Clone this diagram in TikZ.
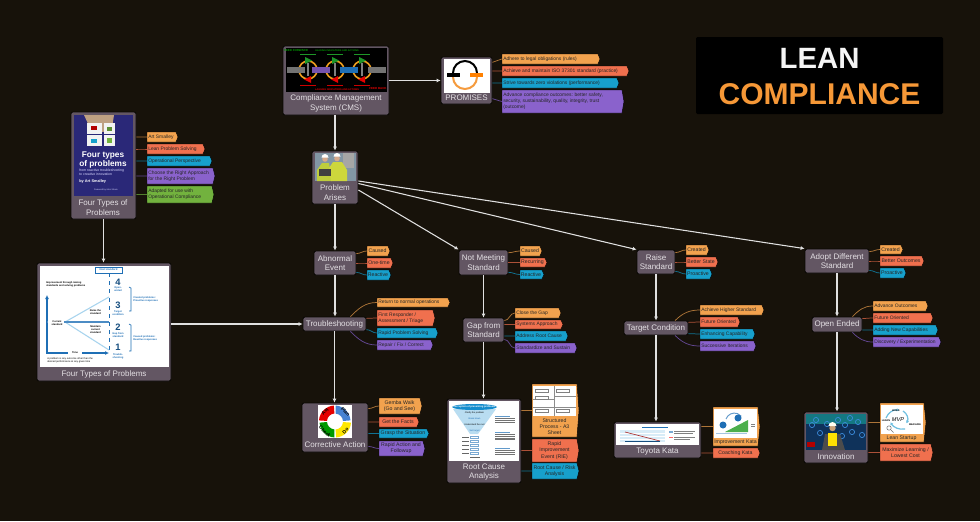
\documentclass[tikz,border=0pt]{standalone}
\usepackage{fontspec}
\setmainfont{Liberation Sans}
\usetikzlibrary{arrows.meta,calc,shapes.symbols,decorations.pathreplacing}
\definecolor{bgc}{HTML}{17120A}
\definecolor{boxc}{HTML}{635663}
\definecolor{labc}{HTML}{E4E0E4}
\definecolor{tagO}{HTML}{F2A24E}
\definecolor{tagR}{HTML}{F0704E}
\definecolor{tagB}{HTML}{17A0CC}
\definecolor{tagP}{HTML}{8A62CC}
\definecolor{tagG}{HTML}{72B23E}
\definecolor{chb}{HTML}{1F6FB5}
\definecolor{chl}{HTML}{A8D4EE}
\newcounter{tn}
\newcommand\fs[1]{\fontsize{#1pt}{\dimexpr#1pt*12/10\relax}\selectfont}
\def\leftword{left}
\tikzset{
  parentbox/.style={draw=black!60!bgc,line width=0.6pt,fill=boxc,rounded corners=1.5pt,inner sep=1pt,align=center,text=labc,font=\fs{6}},
  taglab/.style={text=black!85,font=\fs{3.9},inner sep=0pt},
  taglabel/.style={text=black!85,font=\fs{3.9},inner sep=0pt,align=center},
  ltaglabel/.style={text=black!85,font=\fs{3.7},inner sep=0pt,align=left,anchor=west},
  plab/.style={text=labc,font=\fs{6},inner sep=0pt,align=center},
  flow/.style={draw=white!88!black,line width=0.8pt,-{Latex[length=3pt,width=3pt]}},
  tagline/.style={line width=0.55pt},
  tiny1/.style={inner sep=0pt,align=center,font=\fs{1.9}},
}
% name x0 y0 x1 y1 text
\newcommand\boxnode[6]{%
 \pgfmathsetmacro\cxx{(#2+#4)/2}\pgfmathsetmacro\cyy{(#3+#5)/2}%
 \pgfmathsetmacro\pww{(#4-#2)*0.75}\pgfmathsetmacro\phh{(#5-#3)*0.75}%
 \node[parentbox,minimum width=\pww pt,minimum height=\phh pt] (#1) at (\cxx,\cyy) {#6};}
% [align] name x0 y0 x1 y1 colour text
\newcommand\tagonly[8][center]{%
 \pgfmathsetmacro\cxx{(#3+#5)/2}\pgfmathsetmacro\cyy{(#4+#6)/2}%
 \pgfmathsetmacro\pww{(#5-#3)*0.75}\pgfmathsetmacro\phh{(#6-#4)*0.75}%
 \pgfmathsetmacro\pang{2*atan((#6-#4)/4)}%
 \def\tagal{#1}%
 \ifx\tagal\leftword
   \node[signal,signal to=east,signal pointer angle=\pang,draw=black,line width=0.35pt,fill=#7,
     minimum width=\pww pt,minimum height=\phh pt,inner sep=0.6pt] (#2) at (\cxx,\cyy) {};
   \node[ltaglabel] (#2L) at (#3+2,\cyy) {#8};
 \else
   \node[signal,signal to=east,signal pointer angle=\pang,draw=black,line width=0.35pt,fill=#7,
     minimum width=\pww pt,minimum height=\phh pt,taglab,inner sep=0.6pt,align=center] (#2) at (\cxx,\cyy) {#8};
 \fi}
% tag parent colour
\newcommand\tagconn[3]{%
 \draw[tagline,#3!72!black] let \p1=(#2.north east),\p2=(#2.south east),\p3=(#1.west),
   \n1={max(0.12,min(0.88,(\y3-\y1)/(\y2-\y1)))} in
   ({\x1},{\y1+\n1*(\y2-\y1)}) to[out=0,in=180] (#1.west);}
% [align] name x0 y0 x1 y1 colour text parent
\newcommand\tagnode[9][center]{\tagonly[#1]{#2}{#3}{#4}{#5}{#6}{#7}{#8}\tagconn{#2}{#9}{#7}}
\newcommand\txt[4][]{\stepcounter{tn}\node[tiny1,#1] (t\thetn) at (#2,#3) {#4};}
\begin{document}
\begin{tikzpicture}[x=0.75pt,y=-0.75pt]
\fill[bgc] (0,0) rectangle (980,521);
\path[use as bounding box] (0,0) rectangle (980,521);

% ---------- title
\node[fill=black,rounded corners=1pt,minimum width=185.25pt,minimum height=57.75pt] (title) at (819.5,75.5) {};
\node[text=white!96!black,font=\fs{22}\bfseries,inner sep=0pt] (lean) at (819.5,58) {LEAN};
\node[text=tagO!70!orange,font=\fs{22.5}\bfseries,inner sep=0pt] (compl) at (819.5,94.5) {COMPLIANCE};

% ---------- book
\boxnode{book}{71}{112}{136}{219}{}
\fill[color={rgb,255:red,42;green,40;blue,120}] (74,115) rectangle (133,196);
\fill[color={rgb,255:red,190;green,160;blue,130}] (84,115) -- (114,115) -- (112,128) -- (103,132) -- (90,128) -- cycle;
\fill[white!90!gray] (87,123) rectangle (102,134);
\fill[white!90!gray] (104,123) rectangle (115,134);
\fill[white!90!gray] (87,135) rectangle (102,146);
\fill[white!90!gray] (104,135) rectangle (115,146);
\fill[red!70!black] (91,126) rectangle (97,130);
\fill[tagG!80!black] (107,127) rectangle (112,131);
\fill[tagB] (91,139) rectangle (97,143);
\fill[tagG] (107,138) rectangle (112,143);
\txt[text=white,font=\fs{6.2}\bfseries]{103}{155.5}{Four types}
\txt[text=white,font=\fs{6.2}\bfseries]{103}{164}{of problems}
\txt[text=white!85!blue,font=\fs{2.6},align=left,anchor=west]{79}{172.5}{from reactive troubleshooting\\[-0.2pt]to creative innovation}
\txt[text=white,font=\fs{2.9}\bfseries,anchor=west]{79}{181.5}{by Art Smalley}
\txt[text=white!85!blue,font=\fs{1.6},anchor=east]{118}{190}{Foreword by John Shook}
\node[plab] (bookL) at (103,207.5) {Four Types of\\Problems};
\tagnode[left]{b1}{146}{132}{177}{142}{tagO}{Art Smalley}{book}
\tagnode[left]{b2}{146}{144}{204}{154}{tagR}{Lean Problem Solving}{book}
\tagnode[left]{b3}{146}{156}{211}{166}{tagB}{Operational Perspective}{book}
\tagnode[left]{b4}{146}{168}{214}{184}{tagP}{Choose the Right Approach\\for the Right Problem}{book}
\tagnode[left]{b5}{146}{186}{213}{203}{tagG}{Adapted for use with\\Operational Compliance}{book}

% ---------- chart
\boxnode{chart}{37}{263}{171}{381}{}
\fill[white] (40,266) rectangle (169,367);
\node[draw=chb,line width=0.5pt,fill=white,minimum width=20pt,minimum height=4.5pt,inner sep=0pt,text=chb,font=\fs{2}\bfseries] (nxt) at (108.5,270) {Next standard};
\draw[chb,line width=0.4pt,dashed] (109,273) -- (109,296);
\draw[chb,line width=0.4pt,dashed] (109,298) -- (109,352);
\draw[chb,line width=0.8pt,{Latex[length=3pt,width=3pt]}-{Latex[length=3pt,width=3pt]}] (47,295) -- (47,353) -- (109,353);
\fill[white] (68,351) rectangle (82,355);
\draw[chl,line width=0.8pt] (65,322) -- (109,297);
\draw[chl,line width=0.8pt] (65,322) -- (109,350);
\draw[chb!80!white,line width=0.8pt] (47,322) -- (109,322);
\fill[white] (48,319) rectangle (64,331);
\txt[text=black,font=\fs{1.9}\bfseries]{57}{323}{Current\\standard}
\txt[text=black,font=\fs{1.9}\bfseries]{75}{353}{Time}
\txt[text=black,font=\fs{1.9}\bfseries,align=left,anchor=west]{46}{284}{Improvement through raising\\standards and solving problems}
\txt[text=black,font=\fs{1.9}\bfseries]{95.5}{312}{Raise the\\standard}
\txt[text=black,font=\fs{1.9}\bfseries]{95.5}{330}{Maintain\\current\\standard}
\txt[text=black,font=\fs{1.9},align=left,anchor=west]{47}{360.5}{A problem is any outcome other than the\\desired performance at any given time}
\txt[text=chb!70!black,font=\fs{7}\bfseries]{118}{282}{4}
\txt[text=chb!70!black,font=\fs{7}\bfseries]{118}{305}{3}
\txt[text=chb!70!black,font=\fs{7}\bfseries]{118}{327}{2}
\txt[text=chb!70!black,font=\fs{7}\bfseries]{118}{347}{1}
\txt[text=chb,font=\fs{1.9}\bfseries]{118}{289.5}{Open-\\ended}
\txt[text=chb,font=\fs{1.9}\bfseries]{118}{313}{Target\\condition}
\txt[text=chb,font=\fs{1.9}\bfseries]{118}{335}{Gap from\\standard}
\txt[text=chb,font=\fs{1.9}\bfseries]{118}{356}{Trouble-\\shooting}
\draw[chb,line width=0.5pt] (129,287) -- (131,288) -- (131,311) -- (129,311);
\draw[chb,line width=0.5pt] (129,324) -- (131,325) -- (131,351) -- (129,351);
\txt[text=chb,font=\fs{1.9}\bfseries,align=left,anchor=west]{133}{299}{Created problems:\\Proactive responses}
\txt[text=chb,font=\fs{1.9}\bfseries,align=left,anchor=west]{133}{338.5}{Caused problems:\\Reactive responses}
\node[plab] (chartL) at (104,374.5) {Four Types of Problems};

% ---------- CMS
\boxnode{cms}{283}{46}{389}{115}{}
\fill[black] (286,48) rectangle (387,92);
\foreach \cc in {308,335,362}{
  \draw[color={rgb,255:red,240;green,160;blue,30},line width=1.2pt] (\cc,70) circle (9);
  \fill[color={rgb,255:red,30;green,150;blue,40}] (\cc-3,57) -- (\cc+4,60.5) -- (\cc-3,64) -- cycle;
  \fill[red!90!black] (\cc+3,76) -- (\cc-4,79.5) -- (\cc+3,83) -- cycle;
  \fill[black!50!white] (\cc-1,63) rectangle (\cc+1,76);
  \fill[color={rgb,255:red,30;green,150;blue,40}] (\cc-8,54) rectangle (\cc+8,55);
  \fill[red!80!black] (\cc-8,84.5) rectangle (\cc+8,85.5);
}
\fill[black!55!white] (287,67) rectangle (305,73);
\fill[tagP!85!black] (312,67) rectangle (330,73);
\fill[chb] (340,67) rectangle (358,73);
\fill[black!55!white] (368,67) rectangle (386,73);
\txt[text=green!60!black,font=\fs{2.2}\bfseries]{296}{50.5}{FEED FORWARD}
\txt[text=green!60!black,font=\fs{1.8}\bfseries]{337}{50.5}{LEADING INDICATORS AND ACTIONS}
\txt[text=red!90!black,font=\fs{1.8}\bfseries]{337}{89.5}{LAGGING INDICATORS AND ACTIONS}
\txt[text=red!90!black,font=\fs{2.2}\bfseries]{378}{88.5}{FEED BACK}
\node[plab] (cmsL) at (336,103.5) {Compliance Management\\System (CMS)};

% ---------- promises
\boxnode{prom}{441}{57}{492}{104}{}
\fill[white] (444,59) rectangle (490,93);
\draw[black,line width=1.5pt] (453,73) arc (180:360:12);
\draw[tagO!80!orange,line width=1.5pt] (477,77) arc (0:180:12);
\fill[black] (447,73) rectangle (460,77);
\fill[orange] (470,73) rectangle (483,77);
\node[plab] (promL) at (466.5,98) {PROMISES};
\tagnode[left]{p1}{501}{54}{599}{64}{tagO}{Adhere to legal obligations (rules)}{prom}
\tagnode[left]{p2}{501}{66}{628}{76}{tagR}{Achieve and maintain ISO 37301 standard (practice)}{prom}
\tagnode[left]{p3}{501}{78}{618}{88}{tagB}{Strive towards zero violations (performance)}{prom}
\tagnode[left]{p4}{501}{90}{623}{113}{tagP}{Advance compliance outcomes: better safety,\\security, sustainability, quality, integrity, trust\\(outcome)}{prom}

% ---------- problem arises
\boxnode{prob}{312}{151}{358}{204}{}
\fill[color={rgb,255:red,130;green,150;blue,165}] (315,153) rectangle (356,181);
\fill[black!35!white] (343,153) rectangle (354,168);
\fill[color={rgb,255:red,190;green,205;blue,60}] (317,170) -- (322,163) -- (329,163) -- (332,181) -- (317,181) -- cycle;
\fill[color={rgb,255:red,205;green,215;blue,60}] (329,168) -- (333,162) -- (342,162) -- (347,170) -- (347,181) -- (331,181) -- cycle;
\fill[color={rgb,255:red,215;green,170;blue,140}] (325,159) circle (2.8);
\fill[color={rgb,255:red,215;green,170;blue,140}] (337,158.5) circle (2.8);
\fill[white] (321.5,157.5) arc (180:360:3.5) -- cycle;
\fill[white] (333.5,156.5) arc (180:360:3.5) -- cycle;
\fill[black!75] (319,169) rectangle (331,176);
\node[plab] (probL) at (335,192.5) {Problem\\Arises};

% ---------- abnormal event column
\boxnode{abn}{314}{251}{356}{275}{Abnormal\\Event}
\tagnode{a1}{366}{246}{389}{256}{tagO}{Caused}{abn}
\tagnode{a2}{366}{258}{392}{268}{tagR}{One-time}{abn}
\tagnode{a3}{366}{270}{390}{280}{tagB}{Reactive}{abn}
\boxnode{trb}{303}{317}{366}{331}{Troubleshooting}
\tagonly[left]{tr1}{376}{298}{449}{307}{tagO}{Return to normal operations}
\tagnode[left]{tr2}{376}{310}{434}{326}{tagR}{First Responder /\\Assessment / Triage}{trb}
\tagnode[left]{tr3}{376}{328}{437}{338}{tagB}{Rapid Problem Solving}{trb}
\tagonly[left]{tr4}{376}{340}{432}{350}{tagP}{Repair / Fix / Correct}
\draw[tagline,tagO!72!black] ([xshift=-12pt]trb.north east) to[out=45,in=180] (tr1.west);
\draw[tagline,tagP!72!black] ([xshift=-12pt]trb.south east) to[out=-45,in=180] (tr4.west);
\boxnode{corr}{302}{403}{368}{452}{}
\fill[white] (318,405) rectangle (352,438);
\fill[red!90!black] (319,420.4) arc (184:266:16) -- (334.4,413.5) arc (266:184:8) -- cycle;
\fill[color={rgb,255:red,70;green,130;blue,210}] (335.6,405.5) arc (274:356:16) -- (343,421) arc (356:274:8) -- cycle;
\fill[yellow!90!orange] (351,422.6) arc (4:86:16) -- (335.6,429.5) arc (86:4:8) -- cycle;
\fill[green!60!black] (334.4,437.5) arc (94:176:16) -- (327,422) arc (176:94:8) -- cycle;
\txt[rotate=45,text=black,font=\fs{3.6}\bfseries]{325}{411.5}{Act}
\txt[rotate=45,text=black,font=\fs{3.6}\bfseries]{345.5}{431}{Do}
\txt[rotate=-45,text=black,font=\fs{3.6}\bfseries]{345.5}{412}{Plan}
\txt[rotate=-45,text=black,font=\fs{3.6}\bfseries]{325}{431.5}{Check}
\node[plab] (corrL) at (335,445) {Corrective Action};
\tagnode{c1}{378}{398}{421}{414}{tagO}{Gemba Walk\\(Go and See)}{corr}
\tagnode{c2}{378}{417}{418}{427}{tagR}{Get the Facts}{corr}
\tagnode{c3}{378}{429}{428}{438}{tagB}{Grasp the Situation}{corr}
\tagnode{c4}{378}{441}{424}{456}{tagP}{Rapid Action and\\Followup}{corr}

% ---------- not meeting column
\boxnode{nms}{459}{250}{508}{275}{Not Meeting\\Standard}
\tagnode{n1}{519}{246}{541}{256}{tagO}{Caused}{nms}
\tagnode{n2}{519}{258}{546}{267}{tagR}{Recurring}{nms}
\tagnode{n3}{519}{270}{543}{279}{tagB}{Reactive}{nms}
\boxnode{gap}{463}{318}{504}{342}{Gap from\\Standard}
\tagnode[left]{g1}{514}{308}{560}{318}{tagO}{Close the Gap}{gap}
\tagnode[left]{g2}{514}{320}{562}{329}{tagR}{Systems Approach}{gap}
\tagnode[left]{g3}{514}{331}{567}{341}{tagB}{Address Root Cause}{gap}
\tagnode[left]{g4}{514}{343}{576}{353}{tagP}{Standardize and Sustain}{gap}
\boxnode{rca}{447}{399}{521}{483}{}
\fill[white] (449,401) rectangle (519,461);
\fill[chl!80!white] (453,409) -- (496,409) -- (478,434) -- (470,434) -- cycle;
\fill[color={rgb,255:red,20;green,140;blue,205}] (474.5,407) ellipse (22.5 and 3);
\txt[text=white,font=\fs{1.9}\bfseries]{474.5}{407}{Perception of presenting problems}
\txt[text=black,font=\fs{1.7}]{474.5}{413}{Clarify the problem}
\txt[text=chb,font=\fs{1.7}]{474.5}{419}{Break down}
\txt[text=black,font=\fs{1.7}]{474.5}{425}{Understand the root}
\txt[text=chb,font=\fs{1.7}]{474.5}{431}{Set target}
\foreach \yy in {437,441,445,449,453}{
  \fill[black!60] (462,\yy-0.4) rectangle (469,\yy+0.4);
  \draw[chb!60,line width=0.2pt] (470,\yy-1) rectangle (478,\yy+1);
}
\fill[black!60] (470,457) rectangle (480,458);
\foreach \yy/\nn in {417/3,433/4,449/3}{
  \fill[chb!70!white] (495,\yy-1) rectangle (510,\yy);
  \foreach \kk in {1,...,\nn}{\fill[black!55] (495,\yy+\kk*1.6-0.3) rectangle (515,\yy+\kk*1.6+0.3);}
}
\node[plab] (rcaL) at (484,472) {Root Cause\\Analysis};
\tagonly{r1}{531}{384}{578}{437}{tagO}{}
\fill[white] (533,386) rectangle (576,416);
\draw[black!45,line width=0.2pt] (554,386) -- (554,416) (533,399) -- (554,399) (533,407) -- (576,407) (554,396) -- (576,396);
\foreach \xx/\yy in {535/389,556/389,535/396,535/409,556/409}{\draw[black!50,line width=0.2pt] (\xx,\yy) rectangle (\xx+13,\yy+3);}
\node[taglabel] (r1L) at (554.5,426.5) {Structured\\Process - A3\\Sheet};
\tagconn{r1}{rca}{tagO}
\tagnode{r2}{531}{439}{578}{462}{tagR}{Rapid\\Improvement\\Event (RIE)}{rca}
\tagnode{r3}{531}{463}{578}{479}{tagB}{Root Cause / Risk\\Analysis}{rca}

% ---------- raise column
\boxnode{rai}{637}{250}{675}{274}{Raise\\Standard}
\tagnode{s1}{685}{245}{708}{255}{tagO}{Created}{rai}
\tagnode{s2}{685}{257}{717}{267}{tagR}{Better State}{rai}
\tagnode{s3}{685}{269}{711}{279}{tagB}{Proactive}{rai}
\boxnode{tgt}{624}{321}{688}{335}{Target Condition}
\tagonly[left]{t1}{699}{305}{763}{315}{tagO}{Achieve Higher Standard}
\tagnode[left]{t2}{699}{317}{739}{327}{tagR}{Future Oriented}{tgt}
\tagnode[left]{t3}{699}{329}{754}{339}{tagB}{Enhancing Capability}{tgt}
\tagonly[left]{t4}{699}{341}{755}{351}{tagP}{Successive Iterations}
\draw[tagline,tagO!72!black] ([xshift=-10pt]tgt.north east) to[out=45,in=180] (t1.west);
\draw[tagline,tagP!72!black] ([xshift=-10pt]tgt.south east) to[out=-45,in=180] (t4.west);
\boxnode{toy}{614}{422}{701}{458}{}
\fill[white] (616,424) rectangle (699,445);
\fill[chl!45!white] (620,430) rectangle (665,442);
\draw[white,line width=0.2pt] (620,433) -- (665,433) (620,436) -- (665,436) (620,439) -- (665,439);
\draw[red!60!black!80!white,line width=0.5pt] (625,432) -- (660,441);
\draw[chb!70!black,line width=0.5pt] (625,441) -- (660,441);
\fill[chb] (642,426.5) rectangle (668,427.5);
\fill[chb!60!white] (669,431) rectangle (673,433);
\fill[black!50] (674,431) rectangle (695,431.6);
\fill[black!50] (674,433) rectangle (693,433.6);
\fill[red!60] (669,437) rectangle (673,438);
\fill[black!50] (674,437) rectangle (695,437.6);
\fill[black!50] (674,439) rectangle (690,439.6);
\node[plab] (toyL) at (657.5,451.5) {Toyota Kata};
\tagonly{k1}{712}{407}{759}{446}{tagO}{}
\fill[white] (714,409) rectangle (757,438);
\fill[green!55!black!70!white] (725,432) -- (748,432) -- (748,420) -- cycle;
\draw[chb!70!white,line width=0.7pt] (726,419) arc (200:320:9);
\fill[chb] (723,425) circle (3.5);
\fill[chb] (738,418) circle (3.5);
\fill[chb!40!white] (716,433) rectangle (747,434);
\fill[black!50] (751,424) rectangle (755,424.6);
\fill[black!50] (751,426) rectangle (755,426.6);
\node[taglabel] (k1L) at (735.5,442) {Improvement Kata};
\tagconn{k1}{toy}{tagO}
\tagnode{k2}{712}{448}{759}{458}{tagR}{Coaching Kata}{toy}

% ---------- adopt column
\boxnode{ado}{805}{249}{869}{273}{Adopt Different\\Standard}
\tagnode{d1}{879}{245}{902}{254}{tagO}{Created}{ado}
\tagnode{d2}{879}{256}{923}{266}{tagR}{Better Outcomes}{ado}
\tagnode{d3}{879}{268}{905}{278}{tagB}{Proactive}{ado}
\boxnode{ope}{812}{317}{862}{332}{Open Ended}
\tagonly[left]{o1}{872}{301}{927}{311}{tagO}{Advance Outcomes}
\tagnode[left]{o2}{872}{313}{932}{323}{tagR}{Future Oriented}{ope}
\tagnode[left]{o3}{872}{325}{937}{335}{tagB}{Adding New Capabilities}{ope}
\tagonly[left]{o4}{872}{337}{940}{347}{tagP}{Discovery / Experimentation}
\draw[tagline,tagO!72!black] ([xshift=-7.5pt]ope.north east) to[out=45,in=180] (o1.west);
\draw[tagline,tagP!72!black] ([xshift=-7.5pt]ope.south east) to[out=-45,in=180] (o4.west);
\boxnode{inn}{804}{412}{868}{463}{}
\fill[color={rgb,255:red,15;green,50;blue,90}] (806,414) rectangle (866,450);
\fill[color={rgb,255:red,20;green,120;blue,130}] (806,414) rectangle (866,424);
\foreach \xx/\yy in {812/425,820/433,816/420,845/425,852/432,858/422,862/435,842/436,827/424,850/418,838/420}{
  \draw[color={rgb,255:red,60;green,140;blue,220},line width=0.5pt] (\xx,\yy) circle (2.6);}
\fill[black!70] (822,450) -- (825,434) -- (840,434) -- (845,450) -- cycle;
\fill[yellow!85!orange] (828,433) rectangle (837,446);
\fill[color={rgb,255:red,200;green,160;blue,120}] (832.5,428) circle (3.2);
\fill[white!95!yellow] (828.5,426) arc (180:360:4) -- cycle;
\fill[red!70!black] (807,442) rectangle (815,447);
\node[plab] (innL) at (836,456.5) {Innovation};
\tagonly{l1}{879}{403}{925}{442}{tagO}{}
\fill[white] (881,405) rectangle (923,434);
\draw[chl!60!tagB,line width=0.9pt,-{Latex[length=2pt,width=2.5pt]}] (903,411) arc (-60:30:9);
\draw[chl!60!tagB,line width=0.9pt,-{Latex[length=2pt,width=2.5pt]}] (905,429) arc (80:150:14);
\draw[chl!60!tagB,line width=0.9pt,-{Latex[length=2pt,width=2.5pt]}] (886,418) arc (200:280:12);
\txt[text=black,font=\fs{4.2}\itshape]{898}{419.5}{MVP}
\draw[black!55,line width=0.4pt] (889,428) circle (2.2);
\draw[black!55,line width=0.5pt] (891,430) -- (893.5,432.5);
\txt[text=black,font=\fs{1.8}\bfseries]{896}{410.5}{BUILD}
\txt[text=black,font=\fs{1.8}\bfseries]{886}{420.5}{LEARN}
\txt[text=black,font=\fs{1.8}\bfseries]{915}{424.5}{MEASURE}
\node[taglabel] (l1L) at (901.5,438) {Lean Startup};
\tagconn{l1}{inn}{tagO}
\tagnode{l2}{879}{444}{932}{461}{tagR}{Maximize Learning /\\Lowest Cost}{inn}

% ---------- flow connectors
\draw[flow] (book.south) -- (book.south |- chart.north);
\draw[flow] (chart.east |- trb.west) -- (trb.west);
\draw[flow] (cms.east) -- (prom.west |- cms.east);
\draw[flow] (prob.north |- cms.south) -- (prob.north);
\draw[flow] (prob.east |- 0,181) -- (ado.north west);
\draw[flow] (prob.east |- 0,183.5) -- (rai.north west);
\draw[flow] (prob.east |- 0,190) -- (nms.north west);
\draw[flow] (prob.south) -- (prob.south |- abn.north);
\draw[flow] (abn.south) -- (abn.south |- trb.north);
\draw[flow] (trb.south) -- (trb.south |- corr.north);
\draw[flow] (nms.south) -- (nms.south |- gap.north);
\draw[flow] (gap.south) -- (gap.south |- rca.north);
\draw[flow] (rai.south) -- (rai.south |- tgt.north);
\draw[flow] (tgt.south) -- (tgt.south |- toy.north);
\draw[flow] (ado.south) -- (ado.south |- ope.north);
\draw[flow] (ope.south) -- (ope.south |- inn.north);
\end{tikzpicture}
\end{document}
